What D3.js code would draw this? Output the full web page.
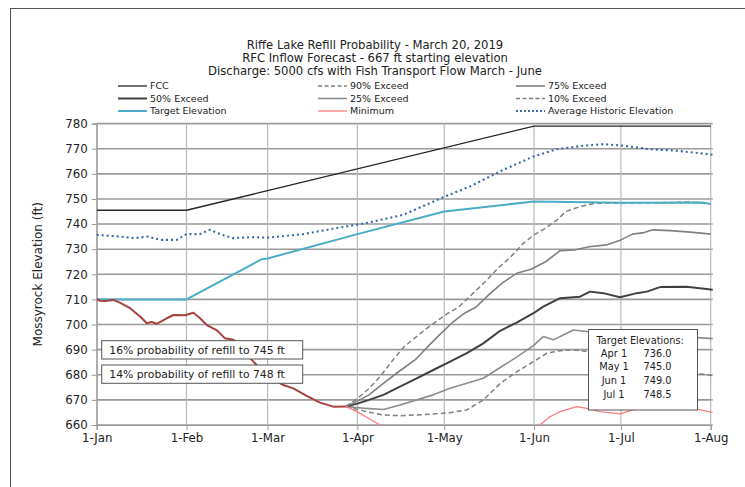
<!DOCTYPE html>
<html>
<head>
<meta charset="utf-8">
<script src="https://cdn.jsdelivr.net/npm/d3@7"></script>
<style>
  html, body { margin: 0; padding: 0; background: #fff; }
  svg { display: block; }
  text { font-family: "DejaVu Sans", Verdana, sans-serif; fill: #222; }
</style>
</head>
<body>
<svg id="chart" width="745" height="487"></svg>
<script>
// ---------------- DATA ----------------
const titleLines = [
  "Riffe Lake Refill Probability - March 20, 2019",
  "RFC Inflow Forecast - 667 ft starting elevation",
  "Discharge: 5000 cfs with Fish Transport Flow March - June"
];
const yLabel = "Mossyrock Elevation (ft)";
const tickLabels = ["1-Jan", "1-Feb", "1-Mar", "1-Apr", "1-May", "1-Jun", "1-Jul", "1-Aug"];
const tickDates = ["2019-01-01", "2019-02-01", "2019-03-01", "2019-04-01", "2019-05-01", "2019-06-01", "2019-07-01", "2019-08-01"];
const yTicks = [660, 670, 680, 690, 700, 710, 720, 730, 740, 750, 760, 770, 780];

// series: [day offset from 1-Jan, elevation ft]
const observed = [[0,710.1],[1,709.5],[3,709.4],[5.7,709.8],[8,708.7],[11.5,706.5],[15,703.2],[17.3,700.5],[19,701],[20.7,700.3],[24.2,702.5],[26.5,703.8],[30.5,703.7],[33.4,704.7],[35.7,702.5],[38,699.8],[41.4,697.8],[44.3,694.5],[47.2,693.9],[50.6,691.2],[53,686.6],[55.2,683.9],[58,681],[61,678.4],[64.4,675.9],[67.9,674.6],[72.5,671.6],[77.1,668.9],[81.7,667.3],[86,667.4]];
const fcc = [[0,745.5],[31,745.5],[59,753.3],[151,779],[212,779]];
const target = [[0,710],[31,710],[57,726],[59,726.3],[90,736],[120,745],[151,749],[181,748.5],[209,748.6],[212,748]];
const avgHistoric = [[0,735.7],[8,735],[12.8,734.4],[17.8,735],[21.9,733.7],[27.6,733.7],[31,736],[35.6,736],[39,737.7],[42.6,736],[47,734.4],[54,734.8],[59,734.6],[71.3,736],[82.9,738.4],[93,740.4],[105.9,743.7],[120.3,751],[128.9,755],[140.4,761.6],[150.8,766.9],[158.8,769.8],[168,771.2],[175,771.8],[181.8,771.2],[191,769.8],[200.3,769.2],[212.9,767.6]];
const exceed90 = [[86,667.4],[90,670.5],[94,674.5],[98,679.5],[102,685.5],[106,691],[110,694.8],[114,698.5],[118,701.8],[121,704.3],[125,707],[130,712.5],[135,718],[138,721.8],[143,727],[147,732],[151,735.7],[155,738.4],[159,741.7],[162,745],[167,747],[172,748.3],[180,748.4],[195,748.5],[205,748.8],[212,748]];
const exceed75 = [[86,667.4],[90,669.5],[94,672],[99,676.6],[104,681],[110,686],[115,692],[118,695.5],[123,701],[127,704.5],[131,707],[136,712.5],[140,716.5],[145,720.4],[150,722],[155,725],[160,729.4],[165,729.7],[170,731],[176,731.7],[181,733.7],[185,736],[189,736.6],[192,737.7],[198,737.4],[205,736.8],[212,736]];
const exceed50 = [[86,667.4],[90,668.5],[94,670],[99,672],[104.7,675.3],[110.5,678.6],[116.2,681.9],[122,685.2],[127.8,688.6],[133.5,692.5],[139.3,697.5],[145,700.8],[150.8,704.5],[154.2,707.1],[160,710.5],[166.9,711.1],[170.3,713.1],[174.9,712.5],[180.7,710.9],[186.5,712.5],[189.9,713.1],[194.5,714.9],[203.7,715],[212.9,713.8]];
const exceed25 = [[86,667.4],[89,667],[93.2,666.6],[99,666.2],[104.7,668],[110.5,670],[116.2,672],[122,674.6],[127.8,676.6],[133.5,678.6],[139.3,682.9],[145,687],[150.8,691.6],[154.2,695.2],[157.7,693.9],[162.3,696.5],[164.6,697.8],[169.2,697.2],[180,696.5],[195,695.5],[206,694.9],[212.9,694.4]];
const exceed10 = [[86,667.4],[89,666.5],[93.2,665.3],[99,664],[104.7,663.7],[110.5,664],[116.2,664.4],[122,664.9],[127.8,666],[133.5,670],[139.3,676.5],[145,681.2],[150.8,685.2],[155.4,688.6],[160,689.6],[165,689.9],[169.6,689.2],[180,687],[195,683],[206,680.8],[212.9,679.6]];
const minimum = [[86,667.4],[90,665.2],[94,662.6],[98,659.9],[102,657],[110,653],[125,650],[140,652],[147,655],[153,660],[156.5,663.3],[160,665.3],[165.7,667.3],[169.2,666.6],[173.8,665.3],[180.7,664.4],[185.2,666],[192,667],[200,667],[206,666.6],[212.9,664.9]];

const legendItems = ["FCC", "90% Exceed", "75% Exceed", "50% Exceed", "25% Exceed", "10% Exceed", "Target Elevation", "Minimum", "Average Historic Elevation"];
const noteLines = ["16% probability of refill to 745 ft", "14% probability of refill to 748 ft"];
const targetTitle = "Target Elevations:";
const targetDates = ["Apr 1", "May 1", "Jun 1", "Jul 1"];
const targetValues = [736.0, 745.0, 749.0, 748.5];

// ---------------- STYLES ----------------
const styles = {
  "FCC": {color: "#262626", width: 1.3, dash: null},
  "90% Exceed": {color: "#7f7f7f", width: 1.5, dash: "5,3"},
  "75% Exceed": {color: "#808080", width: 1.6, dash: null},
  "50% Exceed": {color: "#404040", width: 2, dash: null},
  "25% Exceed": {color: "#8c8c8c", width: 1.6, dash: null},
  "10% Exceed": {color: "#7f7f7f", width: 1.5, dash: "5,3"},
  "Target Elevation": {color: "#4bacc6", width: 2, dash: null},
  "Minimum": {color: "#ff7c80", width: 1.3, dash: null},
  "Average Historic Elevation": {color: "#3a68a8", width: 2.1, dash: "2,3"}
};
const seriesData = {
  "FCC": fcc, "90% Exceed": exceed90, "75% Exceed": exceed75, "50% Exceed": exceed50,
  "25% Exceed": exceed25, "10% Exceed": exceed10, "Target Elevation": target,
  "Minimum": minimum, "Average Historic Elevation": avgHistoric
};

// ---------------- CHART ----------------
const svg = d3.select("#chart");
const parse = d3.utcParse("%Y-%m-%d");
const t0 = parse("2019-01-01");
const dayToDate = d => new Date(t0.getTime() + d * 86400000);

const x = d3.scaleUtc().domain([parse(tickDates[0]), parse(tickDates[tickDates.length - 1])]).range([96.7, 710.7]);
const y = d3.scaleLinear().domain([660, 780]).range([425, 123.6]);

// outer chart border (left/top visible)
svg.append("rect").attr("x", 10.5).attr("y", 8.5).attr("width", 760).attr("height", 500)
  .attr("fill", "none").attr("stroke", "#555").attr("stroke-width", 1);

// title
svg.append("g").selectAll("text").data(titleLines).join("text")
  .attr("x", 375).attr("y", (d, i) => 48.5 + i * 13.2)
  .attr("text-anchor", "middle").attr("font-size", 11.6).attr("fill", "#222").text(d => d);

// grid
const gx0 = x.range()[0], gx1 = x.range()[1] + 2;
svg.append("g").selectAll("line").data(yTicks).join("line")
  .attr("x1", gx0).attr("x2", gx1).attr("y1", d => y(d)).attr("y2", d => y(d))
  .attr("stroke", "#9a9a9a").attr("stroke-width", 1.6);
svg.append("g").selectAll("line").data(tickDates).join("line")
  .attr("x1", d => x(parse(d))).attr("x2", d => x(parse(d)))
  .attr("y1", y(780)).attr("y2", y(660))
  .attr("stroke", "#b8b8b8").attr("stroke-width", 1.2);

// axes
const yAxis = d3.axisLeft(y).tickValues(yTicks).tickSize(5).tickPadding(4).tickFormat(d3.format("d"));
const gy = svg.append("g").attr("transform", `translate(${gx0},0)`).call(yAxis);
gy.select(".domain").attr("stroke", "#9a9a9a").attr("stroke-width", 1.2);
gy.selectAll(".tick line").attr("stroke", "#9a9a9a");
gy.selectAll(".tick text").attr("font-size", 11.8).attr("font-family", "DejaVu Sans, sans-serif").attr("fill", "#262626");

const xAxis = d3.axisBottom(x).tickValues(tickDates.map(parse)).tickSize(5).tickPadding(4)
  .tickFormat((d, i) => tickLabels[i]);
const gxA = svg.append("g").attr("transform", `translate(0,${y(660)})`).call(xAxis);
gxA.select(".domain").attr("stroke", "#9a9a9a").attr("stroke-width", 1.2);
gxA.selectAll(".tick line").attr("stroke", "#9a9a9a");
gxA.selectAll(".tick text").attr("font-size", 11.8).attr("font-family", "DejaVu Sans, sans-serif").attr("fill", "#262626");

// y label
svg.append("text").attr("transform", `translate(42,${(y(660) + y(780)) / 2}) rotate(-90)`)
  .attr("text-anchor", "middle").attr("font-size", 12).attr("fill", "#262626").text(yLabel);

// clip
svg.append("clipPath").attr("id", "plotclip").append("rect")
  .attr("x", gx0).attr("y", y(780) - 4).attr("width", gx1 - gx0).attr("height", y(660) - y(780) + 4);

const line = d3.line().x(d => x(dayToDate(d[0]))).y(d => y(d[1])).curve(d3.curveLinear);
const plot = svg.append("g").attr("clip-path", "url(#plotclip)");
const drawOrder = ["Average Historic Elevation", "FCC", "10% Exceed", "25% Exceed", "50% Exceed", "75% Exceed", "90% Exceed", "Target Elevation", "Minimum"];
drawOrder.forEach(k => {
  const s = styles[k];
  plot.append("path").datum(seriesData[k]).attr("d", line)
    .attr("fill", "none").attr("stroke", s.color).attr("stroke-width", s.width)
    .attr("stroke-dasharray", s.dash).attr("stroke-linejoin", "round");
});
// observed (all series coincide; drawn as blended dark red)
plot.append("path").datum(observed).attr("d", line)
  .attr("fill", "none").attr("stroke", "#a8423f").attr("stroke-width", 2).attr("stroke-linejoin", "round");

// legend
const colX = [118, 318, 516];
const rowY = [86, 98.5, 111];
const lg = svg.append("g");
legendItems.forEach((k, i) => {
  const cx = colX[i % 3], cy = rowY[Math.floor(i / 3)];
  const s = styles[k];
  lg.append("line").attr("x1", cx).attr("x2", cx + 29).attr("y1", cy).attr("y2", cy)
    .attr("stroke", s.color).attr("stroke-width", Math.min(s.width, 2)).attr("stroke-dasharray", s.dash ? (k.startsWith("Average") ? "2,2" : "4,2.5") : null);
  lg.append("text").attr("x", cx + 32).attr("y", cy + 3.3).attr("font-size", 9.5).attr("fill", "#333").text(k);
});

// note boxes
const notes = svg.append("g");
noteLines.forEach((t, i) => {
  const top = [340.7, 365][i];
  notes.append("rect").attr("x", 101.7).attr("y", top).attr("width", 201).attr("height", 18.3)
    .attr("fill", "#fff").attr("stroke", "#555").attr("stroke-width", 1);
  notes.append("text").attr("x", 109.3).attr("y", top + 13).attr("font-size", 10.8).attr("fill", "#333").text(t);
});

// target elevations box
const tb = svg.append("g");
tb.append("rect").attr("x", 588.5).attr("y", 329.5).attr("width", 109).attr("height", 80.5)
  .attr("fill", "#fff").attr("stroke", "#555").attr("stroke-width", 1);
tb.append("text").attr("x", 596.5).attr("y", 344).attr("font-family", "Liberation Sans, Arial, sans-serif")
  .attr("font-size", 9.8).attr("fill", "#404040").text(targetTitle);
targetDates.forEach((d, i) => {
  const by = 356.5 + i * 13.8;
  tb.append("text").attr("x", 614).attr("y", by).attr("text-anchor", "middle")
    .attr("font-family", "Liberation Sans, Arial, sans-serif").attr("font-size", 9.8).attr("fill", "#404040").text(d);
  tb.append("text").attr("x", 643.5).attr("y", by)
    .attr("font-family", "Liberation Sans, Arial, sans-serif").attr("font-size", 9.8).attr("fill", "#404040")
    .text(d3.format(".1f")(targetValues[i]));
});
</script>
</body>
</html>
